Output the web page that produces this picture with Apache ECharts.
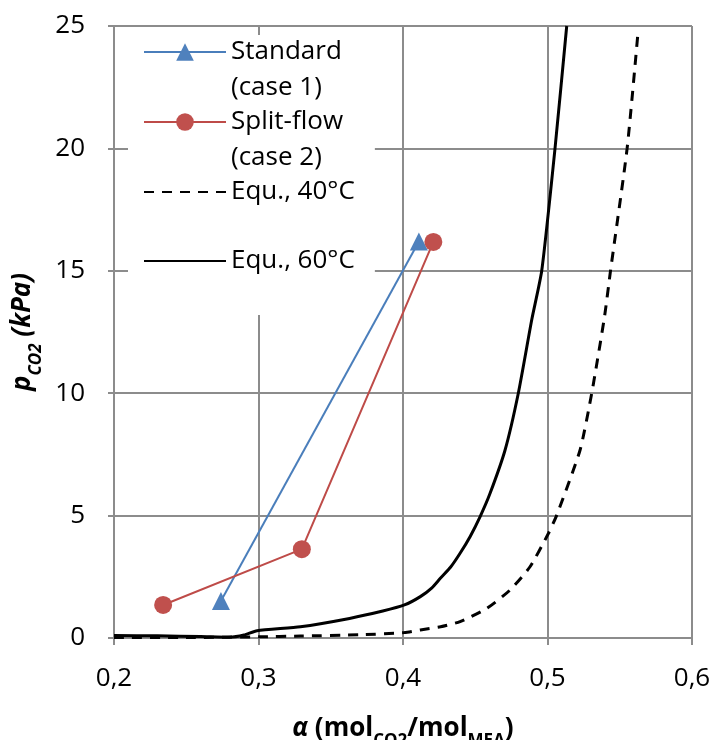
<!DOCTYPE html>
<html><head><meta charset="utf-8">
<script src="https://cdn.jsdelivr.net/npm/echarts@6/dist/echarts.min.js"></script>
<style>html,body{margin:0;padding:0;background:#fff}#c{width:716px;height:740px}</style>
</head><body><div id="c"></div>
<script>
// ---- data ----
const xTicks = [0.2, 0.3, 0.4, 0.5, 0.6];
const yTicks = [0, 5, 10, 15, 20, 25];

const seriesNames = ['Standard\n(case 1)', 'Split-flow\n(case 2)', 'Equ., 40°C', 'Equ., 60°C'];

const standardAlpha = [0.274, 0.411];
const standardP     = [1.51, 16.2];

const splitAlpha = [0.234, 0.330, 0.421];
const splitP     = [1.35, 3.63, 16.18];

const eq40Alpha = [0.200, 0.250, 0.300, 0.329, 0.370, 0.401, 0.412, 0.426, 0.4395, 0.458, 0.4741, 0.4879, 0.5006, 0.5064, 0.5225, 0.5306, 0.5394, 0.5436, 0.5551, 0.5625];
const eq40P     = [0.02, 0.02, 0.05, 0.08, 0.13, 0.22, 0.33, 0.46, 0.67, 1.21, 1.96, 2.91, 4.27, 5.02, 7.67, 10.0, 13.1, 15.0, 20.0, 24.65];

const eq60Alpha = [0.200, 0.230, 0.260, 0.280, 0.290, 0.299, 0.329, 0.363, 0.386, 0.401, 0.412, 0.420, 0.426, 0.433, 0.4395, 0.4465, 0.4533, 0.4602, 0.4706, 0.4798, 0.4891, 0.4960, 0.5052, 0.5133];
const eq60P     = [0.10, 0.09, 0.06, 0.03, 0.12, 0.30, 0.46, 0.80, 1.10, 1.35, 1.69, 2.05, 2.45, 2.90, 3.46, 4.15, 4.95, 5.90, 7.67, 10.0, 13.0, 15.0, 20.0, 25.0];

// ---- chart ----
const pairs = (xs, ys) => xs.map((x, i) => [x, ys[i]]);
const FONT = 'Open Sans';
const GRID = '#8c8c8c';

const legendText = {fontFamily: FONT, fontSize: 26, color: '#000', lineHeight: 36};
const legendBase = {orient: 'vertical', itemWidth: 82, itemHeight: 22, selectedMode: false, padding: 0, z: 4};
// two-line labels: a leading empty line puts the first text line level with the icon
const twoLine = n => ' \n' + n;

const chart = echarts.init(document.getElementById('c'), null, {renderer: 'canvas'});
chart.setOption({
  animation: false,
  backgroundColor: '#fff',
  grid: {left: 114, right: 24, top: 26, bottom: 102, containLabel: false, outerBoundsMode: 'none'},
  xAxis: {
    type: 'value', min: xTicks[0], max: xTicks[xTicks.length - 1], interval: 0.1,
    axisLine: {show: true, onZero: false, lineStyle: {color: GRID, width: 2}},
    axisTick: {show: true, inside: false, length: 7, lineStyle: {color: GRID, width: 2}},
    splitLine: {show: true, lineStyle: {color: GRID, width: 2}},
    axisLabel: {margin: 28, color: '#000', fontFamily: FONT, fontSize: 26,
      formatter: v => v.toFixed(1).replace('.', ',')},
    name: '{a|α}{b| (mol}{s|CO2}{b|/mol}{s|MEA}{b|)}',
    nameLocation: 'middle', nameGap: 69,
    nameTextStyle: {rich: {
      a: {fontFamily: FONT, fontSize: 26, fontWeight: 'bold', fontStyle: 'italic', color: '#000', lineHeight: 43},
      b: {fontFamily: FONT, fontSize: 26, fontWeight: 'bold', color: '#000', lineHeight: 43},
      s: {fontFamily: FONT, fontSize: 17, fontWeight: 'bold', color: '#000', lineHeight: 17, verticalAlign: 'bottom'}
    }}
  },
  yAxis: {
    type: 'value', min: yTicks[0], max: yTicks[yTicks.length - 1], interval: 5,
    axisLine: {show: true, lineStyle: {color: GRID, width: 2}},
    axisTick: {show: true, inside: false, length: 6, lineStyle: {color: GRID, width: 2}},
    splitLine: {show: true, lineStyle: {color: GRID, width: 2}},
    axisLabel: {margin: 29, color: '#000', fontFamily: FONT, fontSize: 26},
    name: '{i|p}{s|CO2}{i| (kPa)}',
    nameLocation: 'middle', nameRotate: 90, nameGap: 62,
    nameTextStyle: {rich: {
      i: {fontFamily: FONT, fontSize: 26, fontWeight: 'bold', fontStyle: 'italic', color: '#000', lineHeight: 43},
      s: {fontFamily: FONT, fontSize: 17, fontWeight: 'bold', fontStyle: 'italic', color: '#000', lineHeight: 17, verticalAlign: 'bottom'}
    }}
  },
  legend: [
    Object.assign({}, legendBase, {data: [{name: seriesNames[3], itemStyle: {opacity: 0}}], left: 128, top: 35, padding: [208, 20, 36, 15],
      backgroundColor: '#fff', z: 3, textStyle: legendText}),
    Object.assign({}, legendBase, {data: [seriesNames[0]], left: 143, top: -2, textStyle: legendText, formatter: twoLine}),
    Object.assign({}, legendBase, {data: [seriesNames[1]], left: 143, top: 68, textStyle: legendText, formatter: twoLine}),
    Object.assign({}, legendBase, {data: [{name: seriesNames[2], itemStyle: {opacity: 0}}], left: 143, top: 174, textStyle: legendText})
  ],
  series: [
    {name: seriesNames[0], type: 'line', data: pairs(standardAlpha, standardP),
      symbol: 'triangle', symbolSize: 18, z: 3,
      lineStyle: {color: '#4a7ebb', width: 2}, itemStyle: {color: '#4f81bd'}},
    {name: seriesNames[1], type: 'line', data: pairs(splitAlpha, splitP),
      symbol: 'circle', symbolSize: 18, z: 3,
      lineStyle: {color: '#be4b48', width: 2}, itemStyle: {color: '#c0504d'}},
    {name: seriesNames[2], type: 'line', data: pairs(eq40Alpha, eq40P),
      symbol: 'none', smooth: 0.2,
      lineStyle: {color: '#000', width: 3, type: [10, 8]}, itemStyle: {color: '#000'}},
    {name: seriesNames[3], type: 'line', data: pairs(eq60Alpha, eq60P),
      symbol: 'none', smooth: 0.2,
      lineStyle: {color: '#000', width: 3}, itemStyle: {color: '#000'}}
  ]
});
</script>
</body></html>
